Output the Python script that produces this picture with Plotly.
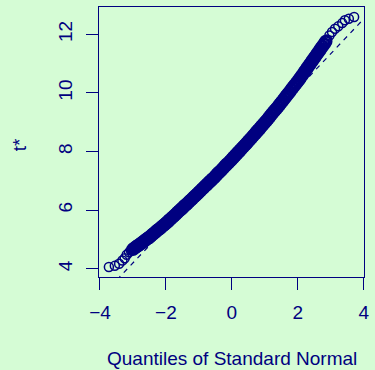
import numpy as np
import plotly.graph_objects as go

# ---- data (normal quantile z, sorted t*) ----
z_lower = [-3.73, -3.55, -3.42, -3.32, -3.25, -3.19, -3.12, -3.06]
t_lower = [4.06, 4.10, 4.17, 4.28, 4.36, 4.48, 4.56, 4.62]

z_mid = [-3.00, -2.95, -2.90, -2.85, -2.80, -2.75, -2.70, -2.65, -2.60, -2.55,
         -2.50, -2.45, -2.40, -2.35, -2.30, -2.25, -2.20, -2.15, -2.10, -2.05,
         -2.00, -1.95, -1.90, -1.85, -1.80, -1.75, -1.70, -1.65, -1.60, -1.55,
         -1.50, -1.45, -1.40, -1.35, -1.30, -1.25, -1.20, -1.15, -1.10, -1.05,
         -1.00, -0.95, -0.90, -0.85, -0.80, -0.75, -0.70, -0.65, -0.60, -0.55,
         -0.50, -0.45, -0.40, -0.35, -0.30, -0.25, -0.20, -0.15, -0.10, -0.05,
         0.00, 0.05, 0.10, 0.15, 0.20, 0.25, 0.30, 0.35, 0.40, 0.45,
         0.50, 0.55, 0.60, 0.65, 0.70, 0.75, 0.80, 0.85, 0.90, 0.95,
         1.00, 1.05, 1.10, 1.15, 1.20, 1.25, 1.30, 1.35, 1.40, 1.45,
         1.50, 1.55, 1.60, 1.65, 1.70, 1.75, 1.80, 1.85, 1.90, 1.95,
         2.00, 2.05, 2.10, 2.15, 2.20, 2.25, 2.30, 2.35, 2.40, 2.45,
         2.50, 2.55, 2.60, 2.65, 2.70, 2.75, 2.80, 2.85]
t_mid = [4.67, 4.71, 4.75, 4.79, 4.83, 4.87, 4.91, 4.96, 5.00, 5.04,
         5.08, 5.13, 5.18, 5.22, 5.27, 5.32, 5.36, 5.41, 5.46, 5.50,
         5.55, 5.60, 5.66, 5.71, 5.76, 5.81, 5.86, 5.92, 5.97, 6.02,
         6.07, 6.13, 6.18, 6.23, 6.29, 6.34, 6.39, 6.45, 6.50, 6.55,
         6.61, 6.66, 6.72, 6.77, 6.83, 6.88, 6.94, 6.99, 7.05, 7.10,
         7.16, 7.22, 7.28, 7.33, 7.39, 7.45, 7.51, 7.57, 7.62, 7.68,
         7.74, 7.80, 7.86, 7.92, 7.98, 8.04, 8.10, 8.16, 8.22, 8.28,
         8.35, 8.41, 8.47, 8.54, 8.60, 8.67, 8.73, 8.79, 8.86, 8.92,
         8.99, 9.05, 9.12, 9.19, 9.26, 9.33, 9.40, 9.46, 9.53, 9.60,
         9.67, 9.74, 9.82, 9.89, 9.96, 10.03, 10.11, 10.18, 10.25, 10.32,
         10.40, 10.47, 10.55, 10.63, 10.71, 10.79, 10.87, 10.95, 11.03, 11.11,
         11.19, 11.27, 11.35, 11.43, 11.51, 11.59, 11.67, 11.75]

z_upper = [2.89, 2.96, 3.04, 3.13, 3.23, 3.35, 3.43, 3.55, 3.71]
t_upper = [11.82, 11.96, 12.08, 12.19, 12.27, 12.38, 12.48, 12.53, 12.59]

x_ticks = [-4, -2, 0, 2, 4]
y_ticks = [4, 6, 8, 10, 12]
x_title = "Quantiles of Standard Normal"
y_title = "t*"

# ---- styling ----
NAVY = "#000080"
BG = "#d5fcd5"
FONT = "Liberation Sans, Arial, Helvetica, sans-serif"
XR = [-4.03, 4.01]
YR = [3.72, 12.93]

z_all = np.array(z_lower + z_mid + z_upper)
t_all = np.array(t_lower + t_mid + t_upper)

# qqline through the quartiles
zq = np.array([-0.6745, 0.6745])
tq = np.interp(zq, z_all, t_all)
slope = (tq[1] - tq[0]) / (zq[1] - zq[0])
icpt = tq[0] - slope * zq[0]
lx = np.array([XR[0] - 0.5, XR[1] + 0.5])
ly = icpt + slope * lx

fig = go.Figure()
fig.add_trace(go.Scatter(
    x=lx, y=ly, mode="lines",
    line=dict(color=NAVY, width=1.2, dash="5px,5px"),
    hoverinfo="skip", showlegend=False))
# dense central part of the sample (circles overlap into a solid band)
fig.add_trace(go.Scatter(
    x=z_mid, y=t_mid, mode="markers",
    marker=dict(symbol="circle-open", size=10.5, color=NAVY,
                line=dict(color=NAVY, width=3)),
    cliponaxis=True, showlegend=False))
# sparse tails: individual open circles
fig.add_trace(go.Scatter(
    x=z_lower + z_upper, y=t_lower + t_upper, mode="markers",
    marker=dict(symbol="circle-open", size=9, color=NAVY,
                line=dict(color=NAVY, width=1.5)),
    cliponaxis=True, showlegend=False))

axis_common = dict(
    showgrid=False, zeroline=False, showline=True, mirror=True,
    linecolor=NAVY, linewidth=1.3, ticks="outside", ticklen=12,
    tickcolor=NAVY, tickwidth=1.2,
    tickfont=dict(family=FONT, size=19, color=NAVY),
)
fig.update_xaxes(range=XR, tickvals=x_ticks,
                 ticktext=["\u2212" + str(-v) if v < 0 else str(v) for v in x_ticks],
                 ticklabelstandoff=6, **axis_common)
fig.update_yaxes(range=YR, tickvals=y_ticks, tickangle=-90,
                 ticklabelstandoff=6, **axis_common)

fig.update_layout(
    width=375, height=370,
    margin=dict(l=99, r=6, t=7, b=93),
    paper_bgcolor=BG, plot_bgcolor=BG,
    font=dict(family=FONT, color=NAVY),
    showlegend=False,
    annotations=[
        dict(text=x_title, xref="paper", yref="paper", x=0.5, y=-0.30,
             xanchor="center", yanchor="middle", showarrow=False,
             font=dict(family=FONT, size=19, color=NAVY)),
        dict(text=y_title, xref="paper", yref="paper", x=-0.30, y=0.49,
             xanchor="center", yanchor="middle", textangle=-90, showarrow=False,
             font=dict(family=FONT, size=19, color=NAVY)),
    ],
)

fig.write_html("out.html")
